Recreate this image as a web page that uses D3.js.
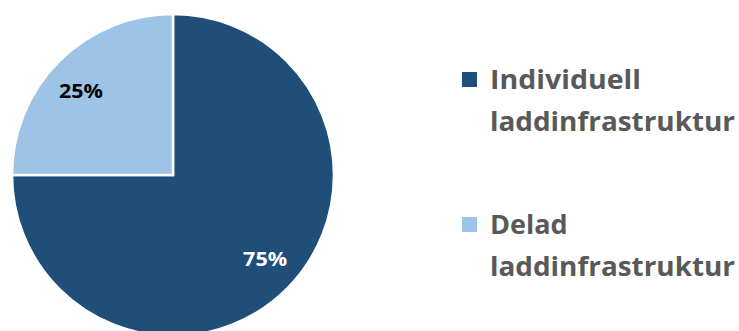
<!DOCTYPE html>
<html><head><meta charset="utf-8">
<script src="https://cdn.jsdelivr.net/npm/d3@7"></script>
<style>html,body{margin:0;padding:0;background:#fff;overflow:hidden}</style>
</head><body>
<svg id="c" width="739" height="331"></svg>
<script>
const categories = ["Individuell laddinfrastruktur", "Delad laddinfrastruktur"];
const legendLines = [["Individuell", "laddinfrastruktur"], ["Delad", "laddinfrastruktur"]];
const values = [75, 25];
const labels = ["75%", "25%"];
const colors = ["#1F4E79", "#9DC3E6"];
const labelColors = ["#ffffff", "#000000"];

const svg = d3.select("#c");
const cx = 173, cy = 175, R = 161;
const g = svg.append("g").attr("transform", `translate(${cx},${cy})`);
const pie = d3.pie().sort(null).value(d => d)(values);
const arc = d3.arc().innerRadius(0).outerRadius(R);
const labelArc = d3.arc().innerRadius(124).outerRadius(124);

g.selectAll("path").data(pie).join("path")
  .attr("d", arc).attr("fill", (d, i) => colors[i])
  .attr("stroke", "#fff").attr("stroke-width", 2.5).attr("stroke-linejoin", "miter");

g.selectAll("text.lbl").data(pie).join("text").attr("class", "lbl")
  .attr("transform", d => { const c = labelArc.centroid(d); return `translate(${c[0] * 1.05},${c[1] * 0.96})`; })
  .attr("text-anchor", "middle").attr("dy", "0.36em")
  .attr("font-family", "Open Sans, sans-serif").attr("font-weight", "bold")
  .attr("font-size", 20).attr("fill", (d, i) => labelColors[i])
  .attr("textLength", 44).attr("lengthAdjust", "spacingAndGlyphs")
  .text((d, i) => labels[i]);

const lg = svg.append("g");
const ly = [72, 217];
categories.forEach((c, i) => {
  lg.append("rect").attr("x", 462).attr("y", ly[i]).attr("width", 15).attr("height", 15).attr("fill", colors[i]);
  legendLines[i].forEach((t, j) => {
    const tx = lg.append("text").attr("x", 490).attr("y", ly[i] + 17 + j * 42)
      .attr("font-family", "Open Sans, sans-serif").attr("font-weight", "bold")
      .attr("font-size", 27).attr("fill", "#595959").text(t);
    if (j === 1) tx.attr("textLength", 245).attr("lengthAdjust", "spacingAndGlyphs");
    if (i === 0 && j === 0) tx.attr("textLength", 151).attr("lengthAdjust", "spacingAndGlyphs");
  });
});
</script>
</body></html>
